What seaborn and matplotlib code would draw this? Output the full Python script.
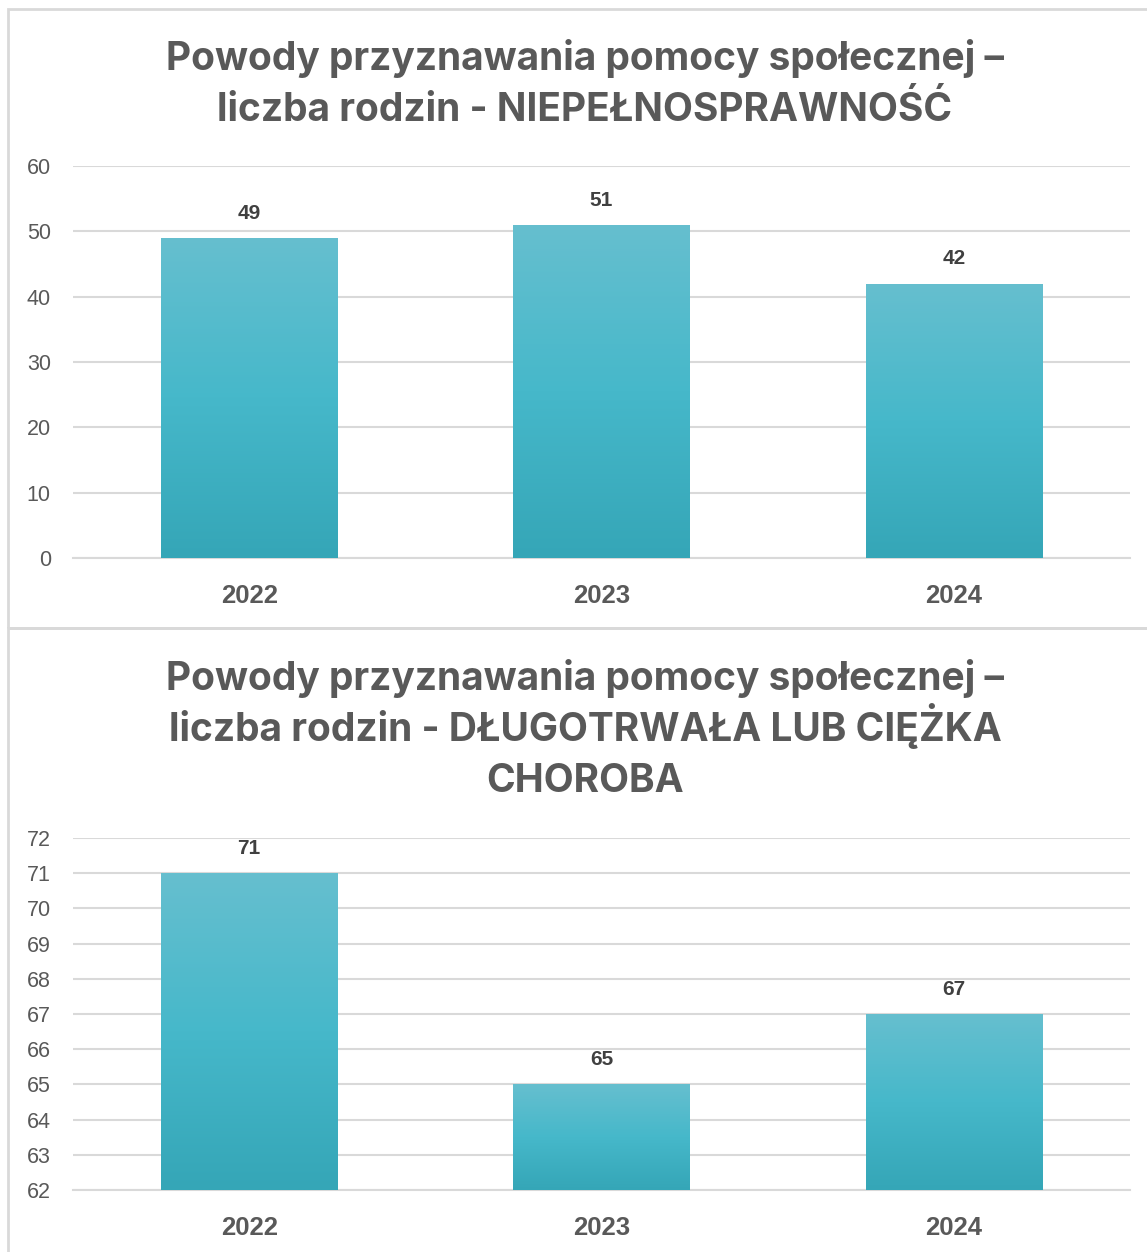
import numpy as np
import pandas as pd
import matplotlib
matplotlib.use("Agg")
import matplotlib.pyplot as plt
import seaborn as sns
from matplotlib.patches import Rectangle
from matplotlib.colors import LinearSegmentedColormap

years = ["2022", "2023", "2024"]
niepelnosprawnosc = [49, 51, 42]
choroba = [71, 65, 67]

title1 = ["Powody przyznawania pomocy społecznej –", "liczba rodzin - NIEPEŁNOSPRAWNOŚĆ"]
title2 = ["Powody przyznawania pomocy społecznej –", "liczba rodzin - DŁUGOTRWAŁA LUB CIĘŻKA",
          "CHOROBA"]

sns.set_theme(style="white")
plt.rcParams['font.family'] = ['Liberation Sans', 'DejaVu Sans']

W, H = 1147, 1252
fig = plt.figure(figsize=(W / 100, H / 100), dpi=100)
grey = "#d9d9d9"
txt = "#595959"

# panel borders
fig.patches.append(Rectangle((8 / W, 1 - 628 / H), 1.2, 619 / H, transform=fig.transFigure,
                             fill=False, edgecolor=grey, lw=2))
fig.patches.append(Rectangle((8 / W, -0.1), 1.2, 0.1 + 1 - 628 / H, transform=fig.transFigure,
                             fill=False, edgecolor=grey, lw=2))

grad = LinearSegmentedColormap.from_list("g", ["#35a6b7", "#46b8ca", "#66bfcf"])


def panel(top, bottom, values, ylim, step, title, title_y):
    ax = fig.add_axes([73 / W, 1 - bottom / H, (1130 - 73) / W, (bottom - top) / H])
    df = pd.DataFrame({"rok": years, "liczba": values})
    sns.barplot(data=df, x="rok", y="liczba", ax=ax, color="#46b8ca", width=0.5, zorder=3)
    ax.set_xlim(-0.5, 2.5)
    ax.set_ylim(*ylim)
    # gradient fill inside each bar
    for p in ax.patches:
        x0, y0 = p.get_x(), ylim[0]
        x1, y1 = x0 + p.get_width(), p.get_height()
        im = ax.imshow(np.linspace(0, 1, 256).reshape(-1, 1), cmap=grad, origin="lower",
                       extent=[x0, x1, y0, y1], aspect="auto", zorder=4)
        im.set_clip_path(p)
        p.set_edgecolor("none")
    ax.set_xlim(-0.5, 2.5)
    ax.set_ylim(*ylim)
    ax.set_yticks(np.arange(ylim[0], ylim[1] + 0.01, step))
    ax.yaxis.grid(True, color=grey, lw=1.5, zorder=0)
    ax.set_axisbelow(True)
    for s in ["top", "right", "left"]:
        ax.spines[s].set_visible(False)
    ax.spines["bottom"].set_color(grey)
    ax.spines["bottom"].set_linewidth(1.5)
    ax.tick_params(axis="y", length=0, pad=16, labelsize=15.5, labelcolor=txt)
    ax.tick_params(axis="x", length=0, pad=18.5, labelsize=18.5, labelcolor=txt)
    for lab in ax.get_xticklabels():
        lab.set_fontweight("bold")
    ax.set_xlabel("")
    ax.set_ylabel("")
    for p, v in zip(ax.patches, values):
        ax.annotate(str(v), (p.get_x() + p.get_width() / 2, p.get_height()),
                    xytext=(0, 11), textcoords="offset points", ha="center", va="bottom",
                    fontsize=15, fontweight="bold", color="#404040", zorder=5)
    for i, line in enumerate(title):
        fig.text(585 / W, 1 - (title_y + 51 * i) / H, line, ha="center", va="baseline",
                 fontsize=28, fontweight="bold", color=txt, family=["Inter", "DejaVu Sans"])
    return ax


panel(166, 558, niepelnosprawnosc, (0, 60), 10, title1, 70)
panel(838, 1190, choroba, (62, 72), 1, title2, 690)

fig.savefig("out.png", dpi=100, facecolor="white")
